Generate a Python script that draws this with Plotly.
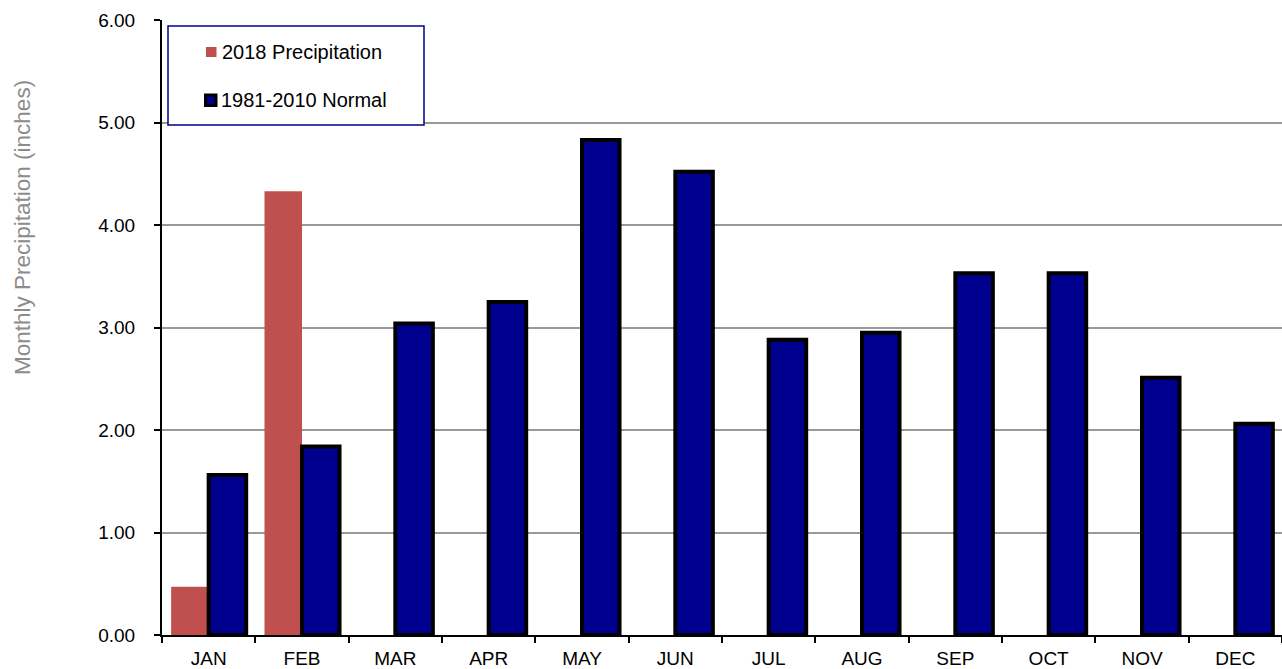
import plotly.graph_objects as go

months = ["JAN", "FEB", "MAR", "APR", "MAY", "JUN", "JUL", "AUG", "SEP", "OCT", "NOV", "DEC"]
precip_2018 = [0.47, 4.33, None, None, None, None, None, None, None, None, None, None]
normal_1981_2010 = [1.56, 1.84, 3.04, 3.25, 4.83, 4.52, 2.88, 2.95, 3.53, 3.53, 2.51, 2.06]
y_ticks = [0, 1, 2, 3, 4, 5, 6]
y_tick_labels = ["0.00", "1.00", "2.00", "3.00", "4.00", "5.00", "6.00"]
legend_names = ["2018 Precipitation", "1981-2010 Normal"]

W, H = 1282, 669
L, R, T, B = 162, 0, 20, 34
PW, PH = W - L - R, H - T - B

def px_x(x):
    return (x - L) / PW

def px_y(y):
    return (H - B - y) / PH

RED = "#C0504D"
BLUE = "#00008F"
FONT = "Liberation Sans, Arial, sans-serif"

fig = go.Figure()
fig.add_trace(go.Bar(x=months, y=precip_2018, name=legend_names[0],
                     marker=dict(color=RED, line=dict(width=0)), showlegend=False))
fig.add_trace(go.Bar(x=months, y=normal_1981_2010, name=legend_names[1],
                     marker=dict(color=BLUE, line=dict(color="black", width=4)),
                     showlegend=False))

# legend box (manual)
shapes = [
    dict(type="rect", xref="paper", yref="paper",
         x0=px_x(168), x1=px_x(424), y0=px_y(125), y1=px_y(26),
         line=dict(color="#00008B", width=1.5), fillcolor="white", layer="above"),
    dict(type="rect", xref="paper", yref="paper",
         x0=px_x(206), x1=px_x(216.5), y0=px_y(57), y1=px_y(47),
         line=dict(width=0), fillcolor=RED, layer="above"),
    dict(type="rect", xref="paper", yref="paper",
         x0=px_x(205.5), x1=px_x(216), y0=px_y(105.5), y1=px_y(95),
         line=dict(color="black", width=3), fillcolor=BLUE, layer="above"),
]
annotations = [
    dict(text=legend_names[0], xref="paper", yref="paper", x=px_x(220), y=px_y(52),
         xanchor="left", yanchor="middle", showarrow=False,
         font=dict(family=FONT, size=20, color="black")),
    dict(text=legend_names[1], xref="paper", yref="paper", x=px_x(219), y=px_y(100.5),
         xanchor="left", yanchor="middle", showarrow=False,
         font=dict(family=FONT, size=20, color="black")),
    dict(text="Monthly Precipitation (inches)", xref="paper", yref="paper",
         x=px_x(22), y=px_y(228), xanchor="center", yanchor="middle",
         textangle=-90, showarrow=False,
         font=dict(family=FONT, size=22.5, color="#8C8C8C")),
]

fig.update_layout(
    width=W, height=H,
    margin=dict(l=L, r=R, t=T, b=B, pad=0),
    paper_bgcolor="white", plot_bgcolor="white",
    barmode="group", bargap=0.196, bargroupgap=0,
    shapes=shapes, annotations=annotations,
    font=dict(family=FONT, size=19, color="black"),
)
fig.update_xaxes(
    type="category", range=[-0.5, 11.5],
    showline=True, linecolor="black", linewidth=2,
    ticks="outside", ticklen=6, tickwidth=1.5, tickcolor="black",
    tickson="boundaries", showgrid=False,
    tickfont=dict(family=FONT, size=19, color="black"),
    ticklabelstandoff=5,
)
fig.update_yaxes(
    range=[0, 6], tickvals=y_ticks, ticktext=y_tick_labels,
    showline=True, linecolor="black", linewidth=2,
    ticks="outside", ticklen=6, tickwidth=1.5, tickcolor="black",
    showgrid=True, gridcolor="#999999", gridwidth=1.5, zeroline=False,
    tickfont=dict(family=FONT, size=19, color="black"),
    ticklabelstandoff=15,
)

fig.write_html("out.html")
